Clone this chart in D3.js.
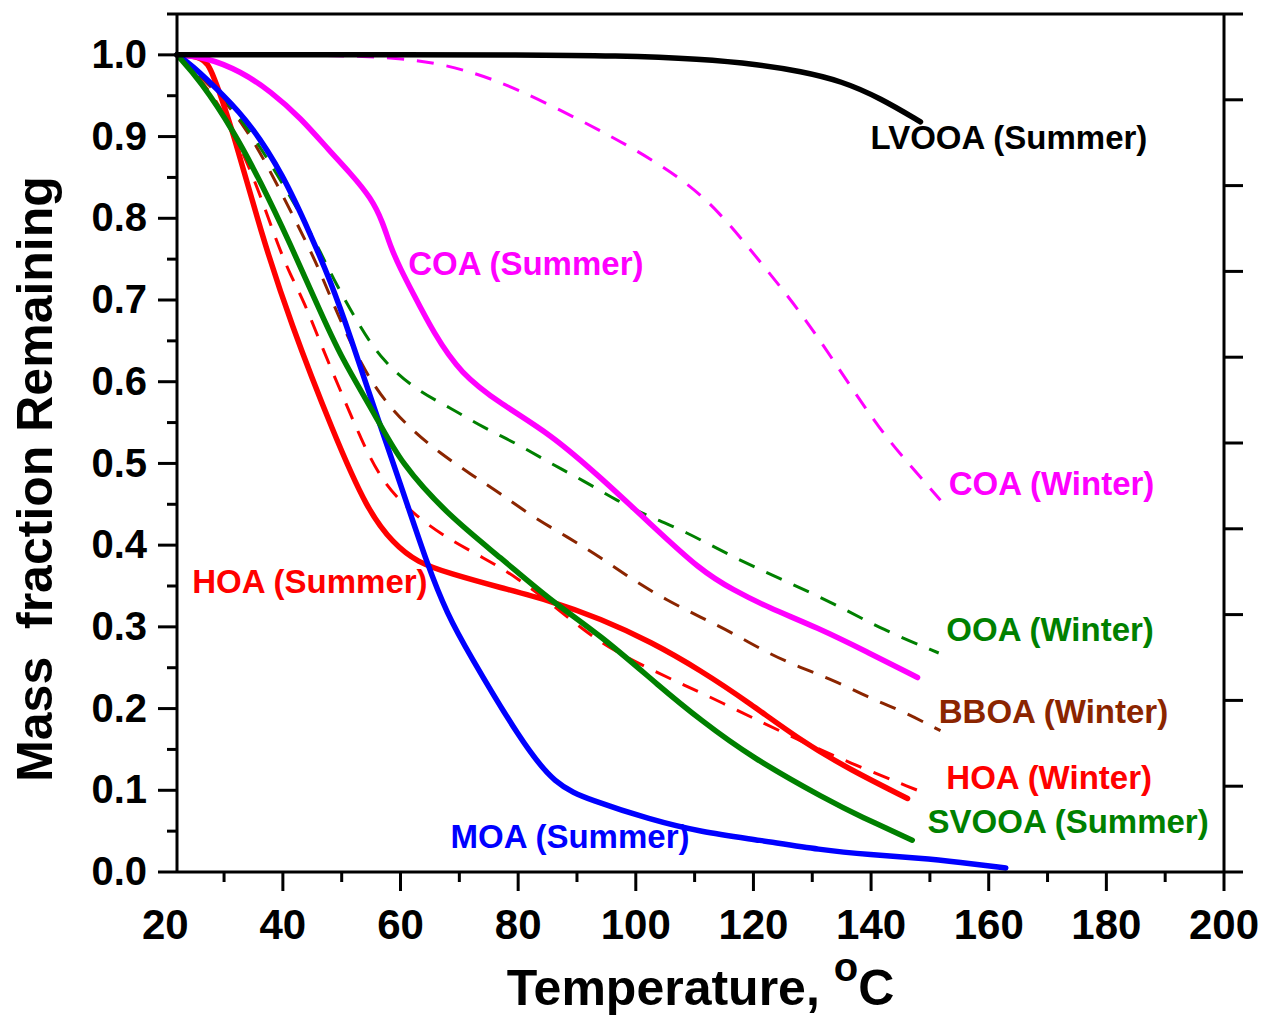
<!DOCTYPE html>
<html>
<head>
<meta charset="utf-8">
<script src="https://cdn.jsdelivr.net/npm/d3@7"></script>
<style>
  body { margin: 0; background: #fff; }
  svg { display: block; font-family: "Liberation Sans", Arial, sans-serif; font-weight: bold; }
</style>
</head>
<body>
<div id="chart"></div>
<script>
// temperatures (deg C) and mass fraction remaining
const lvooaT = [22, 40, 60, 80, 97, 111, 121, 128, 135, 141.6, 148.4];
const lvooaV = [1, 1, 1, 1, 0.999, 0.995, 0.988, 0.98, 0.968, 0.947, 0.918];

const coaWinterT = [22, 50, 63, 72, 80, 90.6, 99, 107.6, 114, 121, 128, 134.8, 141.6, 146.7, 151.8];
const coaWinterV = [1, 1, 0.995, 0.98, 0.958, 0.92, 0.888, 0.85, 0.81, 0.748, 0.686, 0.613, 0.54, 0.497, 0.455];

const coaSummerT = [22, 27, 32.8, 38, 43, 48, 51.5, 55, 57, 58.3, 60, 62, 65.6, 70.2, 77, 85.5, 94, 102.5, 111, 116.6, 122.4, 130.9, 139.4, 147.9];
const coaSummerV = [1, 0.997, 0.98, 0.955, 0.923, 0.882, 0.855, 0.825, 0.795, 0.765, 0.738, 0.71, 0.66, 0.61, 0.573, 0.536, 0.483, 0.426, 0.369, 0.345, 0.324, 0.299, 0.269, 0.238];

const moaT = [22, 24.3, 30, 34.5, 40, 44.7, 48, 51.5, 55.4, 60, 64.6, 68, 71.4, 80.4, 86.3, 92.3, 102.5, 111, 121, 131.4, 139.9, 148.4, 155, 162.9];
const moaV = [1, 0.989, 0.95, 0.915, 0.854, 0.78, 0.725, 0.655, 0.57, 0.475, 0.375, 0.315, 0.27, 0.161, 0.106, 0.088, 0.064, 0.049, 0.039, 0.027, 0.021, 0.017, 0.012, 0.005];

const hoaSummerT = [22, 26.5, 28, 31.6, 36.2, 41.3, 48.6, 54.4, 58.8, 62.8, 68.5, 77, 85.5, 94, 102.5, 111, 119.5, 128, 136.5, 146.2];
const hoaSummerV = [1, 0.998, 0.98, 0.905, 0.784, 0.672, 0.537, 0.442, 0.402, 0.379, 0.365, 0.348, 0.332, 0.31, 0.282, 0.247, 0.206, 0.161, 0.125, 0.09];

const svooaT = [22, 26, 31.6, 36.2, 41.3, 45.8, 50, 55.7, 60, 68.5, 77, 85.5, 94, 104.2, 111, 119.5, 132.6, 138.2, 147];
const svooaV = [1, 0.968, 0.907, 0.845, 0.768, 0.695, 0.628, 0.56, 0.5, 0.434, 0.385, 0.332, 0.29, 0.226, 0.186, 0.141, 0.088, 0.068, 0.039];

const ooaWinterT = [22, 28, 34.5, 40, 44.7, 48.6, 53.2, 57, 62.8, 68.5, 74, 79.9, 85.5, 91.1, 96.9, 102.5, 108.1, 116.6, 125.1, 133.6, 142.1, 151.5];
const ooaWinterV = [1, 0.965, 0.907, 0.842, 0.784, 0.725, 0.666, 0.625, 0.589, 0.568, 0.544, 0.524, 0.5, 0.479, 0.454, 0.434, 0.418, 0.385, 0.357, 0.329, 0.296, 0.268];

const bboaWinterT = [22, 28.8, 33.3, 37.3, 43, 44.7, 46.9, 50.3, 55.4, 61.2, 66.8, 71.9, 77, 82.6, 88.4, 94, 99.6, 105.4, 111, 116.6, 122.4, 128, 133.6, 139.4, 145, 151.8];
const bboaWinterV = [1, 0.955, 0.915, 0.866, 0.785, 0.76, 0.725, 0.665, 0.592, 0.545, 0.512, 0.487, 0.463, 0.434, 0.41, 0.385, 0.357, 0.332, 0.312, 0.292, 0.268, 0.25, 0.235, 0.214, 0.198, 0.173];

const hoaWinterT = [22, 28, 32, 35.6, 39, 41.3, 43.5, 46.9, 49.8, 53.2, 57, 62.8, 68.5, 74, 79.9, 85.5, 91.1, 96.2, 102.5, 108.1, 113.9, 125.1, 136.5, 147.9];
const hoaWinterV = [1, 0.955, 0.9, 0.84, 0.77, 0.73, 0.7, 0.638, 0.589, 0.531, 0.475, 0.434, 0.406, 0.385, 0.36, 0.329, 0.296, 0.271, 0.248, 0.229, 0.21, 0.17, 0.133, 0.1];

// tick labels
const xTickLabels = [20, 40, 60, 80, 100, 120, 140, 160, 180, 200];
const yTickLabels = [0, 0.1, 0.2, 0.3, 0.4, 0.5, 0.6, 0.7, 0.8, 0.9, 1.0];

// label text and where it sits (in data units)
const labelNames = ["LVOOA (Summer)", "COA (Summer)", "COA (Winter)", "OOA (Winter)", "BBOA (Winter)", "HOA (Winter)", "SVOOA (Summer)", "MOA (Summer)", "HOA (Summer)"];
const labelT = [139.9, 61.3, 153.2, 152.8, 151.5, 152.8, 149.6, 68.5, 24.6];
const labelV = [0.885, 0.731, 0.461, 0.283, 0.182, 0.101, 0.048, 0.029, 0.342];

const width = 1266;
const height = 1020;
const margin = { left: 177, right: 42, top: 14, bottom: 148 };

const colors = {
    black: "#000000",
    magenta: "#ff00ff",
    blue: "#0000ff",
    red: "#ff0000",
    green: "#008000",
    brown: "#8b2500"
};

const labelColors = [colors.black, colors.magenta, colors.magenta, colors.green, colors.brown, colors.red, colors.green, colors.blue, colors.red];

// draw order: dashed first, then solid, black on top
const series = [
    { T: hoaWinterT, V: hoaWinterV, color: colors.red, dashed: true },
    { T: bboaWinterT, V: bboaWinterV, color: colors.brown, dashed: true },
    { T: ooaWinterT, V: ooaWinterV, color: colors.green, dashed: true },
    { T: coaWinterT, V: coaWinterV, color: colors.magenta, dashed: true },
    { T: hoaSummerT, V: hoaSummerV, color: colors.red, dashed: false },
    { T: coaSummerT, V: coaSummerV, color: colors.magenta, dashed: false },
    { T: moaT, V: moaV, color: colors.blue, dashed: false },
    { T: svooaT, V: svooaV, color: colors.green, dashed: false },
    { T: lvooaT, V: lvooaV, color: colors.black, dashed: false }
];

const svg = d3.select("#chart")
    .append("svg")
    .attr("width", width)
    .attr("height", height);

const x = d3.scaleLinear()
    .domain([22, 200])
    .range([margin.left, width - margin.right]);

const y = d3.scaleLinear()
    .domain([0, 1.05])
    .range([height - margin.bottom, margin.top]);

// right axis has its own even divisions, no labels
const yRight = d3.scaleLinear()
    .domain([0, 10])
    .range([height - margin.bottom, margin.top]);

const x0 = x.range()[0], x1 = x.range()[1];
const y0 = y.range()[0], y1 = y.range()[1];

// curves (smoothed, the readings are rough)
const line = d3.line()
    .x(d => x(d[0]))
    .y(d => y(d[1]))
    .curve(d3.curveBasis);

svg.append("g")
    .selectAll("path")
    .data(series)
    .enter()
    .append("path")
    .attr("d", d => line(d.T.map((t, i) => [t, d.V[i]])))
    .attr("fill", "none")
    .attr("stroke", d => d.color)
    .attr("stroke-width", d => d.dashed ? 3 : 5.5)
    .attr("stroke-dasharray", d => d.dashed ? "17,13" : null)
    .attr("stroke-linecap", d => d.dashed ? "butt" : "round")
    .attr("stroke-linejoin", "round");

// frame
const frame = svg.append("g")
    .attr("stroke", "#000")
    .attr("stroke-width", 3)
    .attr("fill", "none");

frame.append("line").attr("x1", x0).attr("x2", x1).attr("y1", y1).attr("y2", y1);
frame.append("line").attr("x1", x0).attr("x2", x1).attr("y1", y0).attr("y2", y0);
frame.append("line").attr("x1", x0).attr("x2", x0).attr("y1", y0).attr("y2", y1);
frame.append("line").attr("x1", x1).attr("x2", x1).attr("y1", y0).attr("y2", y1);

// left ticks (major each 0.1, minor each 0.05)
const yTicks = d3.range(0, 22).map(i => i * 0.05);
frame.selectAll(".ytick")
    .data(yTicks)
    .enter()
    .append("line")
    .attr("x1", x0)
    .attr("x2", (d, i) => x0 - (i % 2 === 0 ? 19 : 10))
    .attr("y1", d => y(d))
    .attr("y2", d => y(d));

// bottom ticks (major each 20, minor each 10)
const xTicks = d3.range(30, 201, 10);
frame.selectAll(".xtick")
    .data(xTicks)
    .enter()
    .append("line")
    .attr("x1", d => x(d))
    .attr("x2", d => x(d))
    .attr("y1", y0)
    .attr("y2", d => y0 + (d % 20 === 0 ? 19 : 10));

// right ticks
frame.selectAll(".rtick")
    .data(d3.range(0, 11))
    .enter()
    .append("line")
    .attr("x1", x1)
    .attr("x2", x1 + 19)
    .attr("y1", d => yRight(d))
    .attr("y2", d => yRight(d));

// tick labels
svg.append("g")
    .selectAll("text")
    .data(yTickLabels)
    .enter()
    .append("text")
    .attr("x", x0 - 30)
    .attr("y", d => y(d))
    .attr("dy", "0.33em")
    .attr("text-anchor", "end")
    .style("font-size", "40px")
    .text(d => d.toFixed(1));

svg.append("g")
    .selectAll("text")
    .data(xTickLabels)
    .enter()
    .append("text")
    .attr("x", d => x(d))
    .attr("y", y0 + 67)
    .attr("text-anchor", "middle")
    .style("font-size", "42px")
    .text(d => d);

// axis titles
svg.append("text")
    .attr("transform", "translate(52, 479) rotate(-90)")
    .attr("text-anchor", "middle")
    .style("font-size", "50px")
    .style("white-space", "pre")
    .attr("xml:space", "preserve")
    .text("Mass  fraction Remaining");

const xTitle = svg.append("text")
    .attr("x", (x0 + x1) / 2)
    .attr("y", 1005)
    .attr("text-anchor", "middle")
    .style("font-size", "50px");
xTitle.append("tspan").text("Temperature, ");
xTitle.append("tspan").attr("dy", -24).style("font-size", "40px").text("o");
xTitle.append("tspan").attr("dy", 24).text("C");

// series labels
svg.append("g")
    .selectAll("text")
    .data(labelNames)
    .enter()
    .append("text")
    .attr("x", (d, i) => x(labelT[i]))
    .attr("y", (d, i) => y(labelV[i]))
    .attr("fill", (d, i) => labelColors[i])
    .style("font-size", "33px")
    .text(d => d);
</script>
</body>
</html>
